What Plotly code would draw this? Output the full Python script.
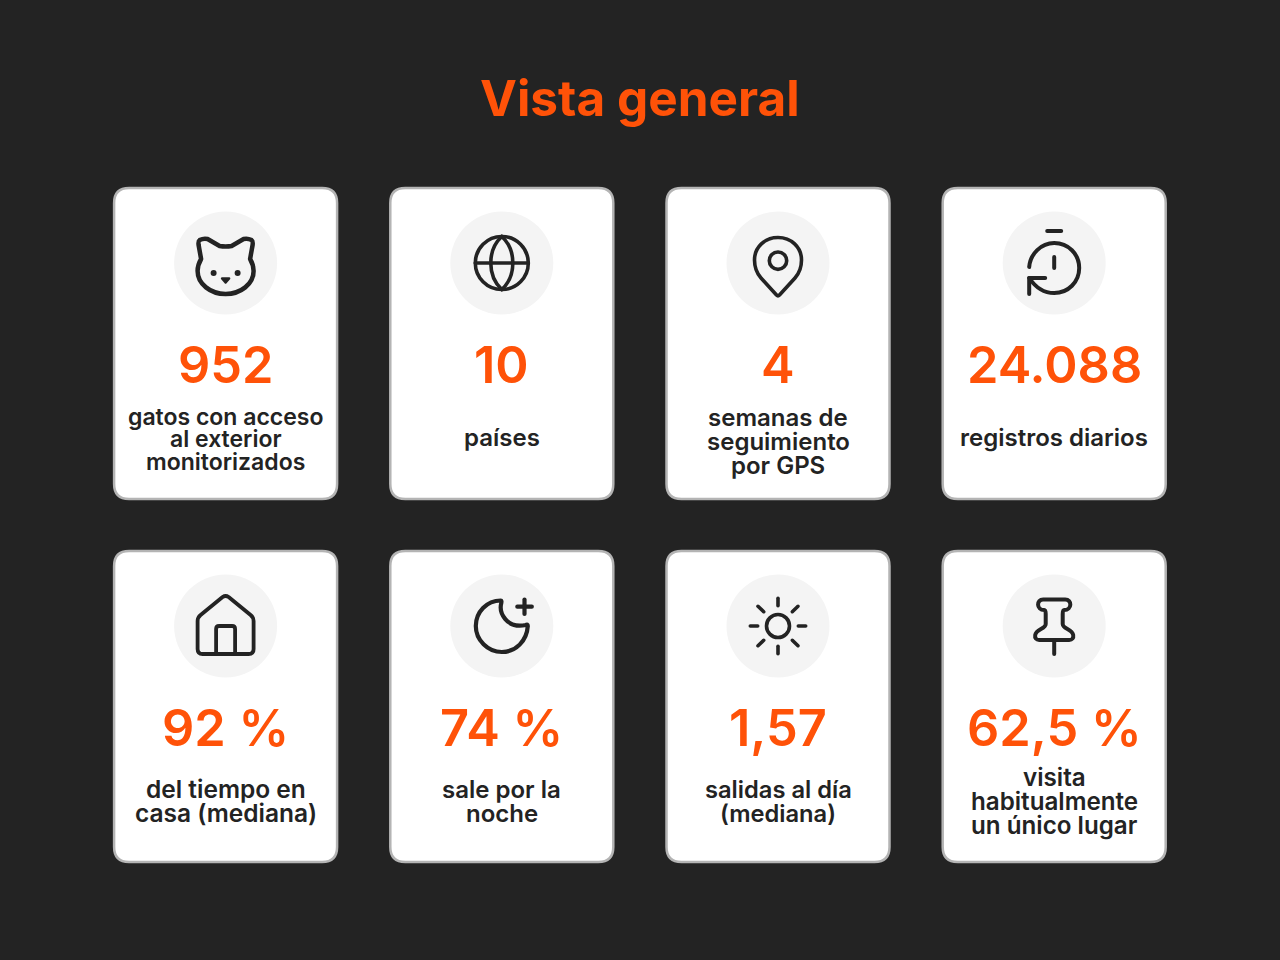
# Vista general: cards with icon, key figure and caption
import re
import plotly.graph_objects as go

title = 'Vista general'
numbers = ['952', '10', '4', '24.088', '92 %', '74 %', '1,57', '62,5 %']
captions = [
    ['gatos con acceso', 'al exterior', 'monitorizados'],
    ['países'],
    ['semanas de', 'seguimiento', 'por GPS'],
    ['registros diarios'],
    ['del tiempo en', 'casa (mediana)'],
    ['sale por la', 'noche'],
    ['salidas al día', '(mediana)'],
    ['visita', 'habitualmente', 'un único lugar'],
]
icon_names = ['cat', 'globe', 'pin', 'clock', 'house', 'moon', 'sun', 'pushpin']

BG = '#232323'
ORANGE = '#ff5208'
INK = '#232323'
FONT = 'Inter'

# paths are relative to the middle of the grey circle
ICONS = {
    'cat': ['M-26,-23 Q-22,-25 -18,-24 L-6,-17 Q0,-16 6,-17 L18,-24 Q22,-25 26,-23 Q27.5,-22 27,-18 '
            'L24.5,-4 Q28,2 28,8 C28,21 15,31 0,31 C-15,31 -28,21 -28,8 Q-28,2 -24.5,-4 L-27,-18 Q-27.5,-22 -26,-23 Z'],
    'globe': ['M-26.5,0 L26.5,0', 'M0,-26.5 C-14.7,-13 -14.7,13 0,26.5', 'M0,-26.5 C14.7,-13 14.7,13 0,26.5'],
    'pin': ['M-1.5,32 L-17,15 C-21,10.5 -23.5,4 -23.5,-3 C-23.5,-16 -13,-25.5 0,-25.5 '
            'C13,-25.5 23.5,-16 23.5,-3 C23.5,4 21,10.5 17,15 L1.5,32 Q0,33.5 -1.5,32 Z'],
    'clock': ['M-25,4 C-24,-9 -13,-20 0,-20 C14,-20 25,-9 25,5 C25,19 14,30 0,30 C-10,30 -19,24 -25,15',
              'M-25,31 L-25,15 L-9,15', 'M-7,-32 L7,-32', 'M0,-6 L0,5'],
    'house': ['M-3,-29 L-25,-11 Q-28,-8.5 -28,-5 L-28,23 Q-28,28 -23,28 L23,28 Q28,28 28,23 L28,-5 '
              'Q28,-8.5 25,-11 L3,-29 Q0,-31 -3,-29 Z',
              'M-9.5,28 L-9.5,3 Q-9.5,0 -6.5,0 L6.5,0 Q9.5,0 9.5,3 L9.5,28'],
    'moon': ['M-1,-25.5 C-15,-25.5 -26,-14 -26,0 C-26,14 -14,26 0,26 C14,26 25,15 26,0 '
             'Q26,-2 24,-1 C4,3 -3,-14 -0.5,-23 Q0,-25.5 -1,-25.5 Z',
             'M15.5,-19.3 L30,-19.3', 'M22.7,-26.5 L22.7,-12'],
    'sun': ['M0,-27.7 L0,-20.3', 'M0,20.3 L0,27.7', 'M-27.7,0 L-20.3,0', 'M20.3,0 L27.7,0',
            'M-20,-19.7 L-14.3,-14.3', 'M14.3,14.3 L20,19.7', 'M-20,19.7 L-14.3,14.3', 'M14.3,-14.3 L20,-19.7'],
    'pushpin': ['M-11,-26.5 L11,-26.5 C18,-26.5 18,-16 10,-16 C8.5,-16 8.5,-14 8.5,-12 L8.5,-2 '
                'C8.5,3 18,3 19,9 C19.5,12 18,14 15,14 L-15,14 C-18,14 -19.5,12 -19,9 '
                'C-18,3 -8.5,3 -8.5,-2 L-8.5,-12 C-8.5,-14 -8.5,-16 -10,-16 C-18,-16 -18,-26.5 -11,-26.5 Z',
                'M0,14 L0,28'],
}
# circles inside icons: dx, dy, r, filled
ICON_CIRCLES = {
    'cat': [(-12, 10, 3, True), (12, 10, 3, True)],
    'globe': [(0, 0, 26.5, False)],
    'pin': [(0, -2.3, 8.7, False)],
    'sun': [(0, 0, 11.5, False)],
}
NOSE = 'M-3.5,15.5 L3.5,15.5 L0,19.5 Z'
ICON_W = {'cat': 4.5, 'moon': 4.2, 'house': 3.8, 'clock': 4, 'pushpin': 4}

CARD_W, CARD_H = 223, 311
COL_X = [114.1, 390.3, 666.5, 942.7]
ROW_Y = [188, 551]
# caption middle below card top, line spacing and size, per card
CAPTION_MID = [251, 249, 253, 249, 250, 250, 250, 250]
CAPTION_LH = [22.5, 24, 24, 24, 24, 24, 24, 24]
CAPTION_SIZE = [23, 24, 24, 24, 24.5, 24, 23.7, 24.2]


def shift(path, cx, cy):
    # move a relative path to the icon position
    def pair(m):
        return f'{float(m.group(1)) + cx},{float(m.group(2)) + cy}'
    return re.sub(r'(-?[\d.]+),(-?[\d.]+)', pair, path)


def round_rect(x0, y0, x1, y1, r):
    return (f'M{x0 + r},{y0} L{x1 - r},{y0} Q{x1},{y0} {x1},{y0 + r} L{x1},{y1 - r} Q{x1},{y1} {x1 - r},{y1} '
            f'L{x0 + r},{y1} Q{x0},{y1} {x0},{y1 - r} L{x0},{y0 + r} Q{x0},{y0} {x0 + r},{y0} Z')


shapes = []
annotations = [dict(x=640, y=97.5, text=f'<b>{title}</b>', showarrow=False, xanchor='center', yanchor='middle',
                    font=dict(family=FONT, size=49.5, color=ORANGE))]

for i in range(8):
    x0 = COL_X[i % 4]
    y0 = ROW_Y[i // 4]
    cx = x0 + CARD_W / 2
    cy = y0 + 75
    shapes.append(dict(type='path', path=round_rect(x0, y0, x0 + CARD_W, y0 + CARD_H, 15),
                       fillcolor='white', line=dict(color='#b4b4b4', width=2.5)))
    shapes.append(dict(type='circle', x0=cx - 51.5, x1=cx + 51.5, y0=cy - 51.5, y1=cy + 51.5,
                       fillcolor='#f4f4f4', line=dict(width=0)))
    name = icon_names[i]
    w = ICON_W.get(name, 3.6)
    for p in ICONS[name]:
        shapes.append(dict(type='path', path=shift(p, cx, cy), line=dict(color=INK, width=w)))
    for dx, dy, r, filled in ICON_CIRCLES.get(name, []):
        shapes.append(dict(type='circle', x0=cx + dx - r, x1=cx + dx + r, y0=cy + dy - r, y1=cy + dy + r,
                           fillcolor=INK if filled else 'rgba(0,0,0,0)',
                           line=dict(color=INK, width=0 if filled else w)))
    if name == 'cat':
        shapes.append(dict(type='path', path=shift(NOSE, cx, cy), fillcolor=INK, line=dict(color=INK, width=2.5)))

    annotations.append(dict(x=cx, y=y0 + 176.7, text=numbers[i], showarrow=False, xanchor='center', yanchor='middle',
                            font=dict(family=FONT, size=50.5, color=ORANGE, weight=600)))
    lines = captions[i]
    mid = y0 + CAPTION_MID[i]
    lh = CAPTION_LH[i]
    for j, line in enumerate(lines):
        annotations.append(dict(x=cx, y=mid + (j - (len(lines) - 1) / 2) * lh, text=line, showarrow=False,
                                xanchor='center', yanchor='middle',
                                font=dict(family=FONT, size=CAPTION_SIZE[i], color=INK, weight=600)))

fig = go.Figure()
fig.update_layout(width=1280, height=960, margin=dict(l=0, r=0, t=0, b=0),
                  paper_bgcolor=BG, plot_bgcolor=BG, showlegend=False,
                  xaxis=dict(range=[0, 1280], visible=False, fixedrange=True),
                  yaxis=dict(range=[960, 0], visible=False, fixedrange=True),
                  shapes=shapes, annotations=annotations)

# full-bleed page and rounded line ends on the icons
post = """
document.body.style.margin = '0';
document.body.style.background = '#232323';
var st = document.createElement('style');
st.textContent = '.shapelayer path{stroke-linecap:round;stroke-linejoin:round}';
document.head.appendChild(st);
"""
fig.write_html("out.html", post_script=post, config=dict(displayModeBar=False))
